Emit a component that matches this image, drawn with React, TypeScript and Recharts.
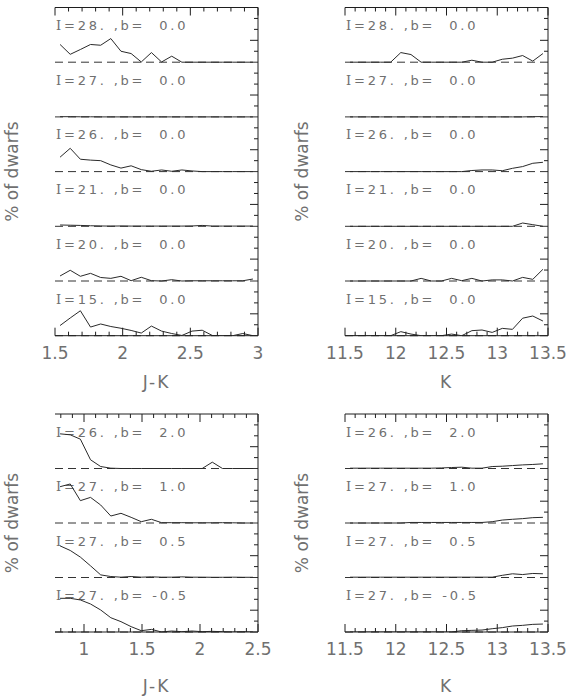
import React from 'react';
import { LineChart, Line, XAxis, YAxis, ReferenceLine } from 'recharts';

// ---- bin centres (x categories) ----
const JK_TOP_X = [1.5375, 1.6125, 1.6875, 1.7625, 1.8375, 1.9125, 1.9875, 2.0625, 2.1375, 2.2125, 2.2875, 2.3625, 2.4375, 2.5125, 2.5875, 2.6625, 2.7375, 2.8125, 2.8875, 2.9625];
const K_X = [11.55, 11.65, 11.75, 11.85, 11.95, 12.05, 12.15, 12.25, 12.35, 12.45, 12.55, 12.65, 12.75, 12.85, 12.95, 13.05, 13.15, 13.25, 13.35, 13.45];
const JK_BOT_X = [0.79375, 0.88125, 0.96875, 1.05625, 1.14375, 1.23125, 1.31875, 1.40625, 1.49375, 1.58125, 1.66875, 1.75625, 1.84375, 1.93125, 2.01875, 2.10625, 2.19375, 2.28125, 2.36875, 2.45625];

// ---- axis ticks / labels ----
const JK_TOP_TICKS = [1.5, 1.6, 1.7, 1.8, 1.9, 2.0, 2.1, 2.2, 2.3, 2.4, 2.5, 2.6, 2.7, 2.8, 2.9, 3.0];
const JK_TOP_LABELS = [1.5, 2, 2.5, 3];
const K_TICKS = [11.5, 11.6, 11.7, 11.8, 11.9, 12.0, 12.1, 12.2, 12.3, 12.4, 12.5, 12.6, 12.7, 12.8, 12.9, 13.0, 13.1, 13.2, 13.3, 13.4, 13.5];
const K_LABELS = [11.5, 12, 12.5, 13, 13.5];
const JK_BOT_TICKS = [0.8, 0.9, 1.0, 1.1, 1.2, 1.3, 1.4, 1.5, 1.6, 1.7, 1.8, 1.9, 2.0, 2.1, 2.2, 2.3, 2.4, 2.5];
const JK_BOT_LABELS = [1, 1.5, 2, 2.5];

const TOP_BAND_LABELS = ['I=28. ,b=  0.0', 'I=27. ,b=  0.0', 'I=26. ,b=  0.0', 'I=21. ,b=  0.0', 'I=20. ,b=  0.0', 'I=15. ,b=  0.0'];
const BOT_BAND_LABELS = ['I=26. ,b=  2.0', 'I=27. ,b=  1.0', 'I=27. ,b=  0.5', 'I=27. ,b= -0.5'];

// ---- series: top-left (J-K) ----
const L28_JK = [1.62, 0.72, 1.16, 1.62, 1.55, 2.16, 1.0, 0.79, 0.02, 0.88, 0.02, 0.55, 0, 0, 0, 0, 0, 0, 0, 0];
const L27_JK = [0.02, 0.02, 0.01, 0.01, 0, 0, 0, 0, 0, 0, 0, 0, 0, 0, 0, 0, 0, 0, 0, 0];
const L26_JK = [1.32, 2.13, 1.13, 1.05, 1.0, 0.61, 0.32, 0.53, 0.18, 0.03, 0.15, 0.03, 0.15, 0.06, 0, 0, 0, 0, 0, 0];
const L21_JK = [0.12, 0.1, 0.08, 0.05, 0.03, 0.02, 0.03, 0.02, 0.02, 0.02, 0.02, 0.02, 0.02, 0.03, 0.08, 0.02, 0.02, 0.02, 0.02, 0.02];
const L20_JK = [0.46, 0.98, 0.43, 0.7, 0.32, 0.24, 0.43, 0.03, 0.34, 0.03, 0, 0.12, 0, 0.02, 0.02, 0.02, 0.02, 0.02, 0.02, 0.18];
const L15_JK = [0.93, 1.62, 2.28, 0.79, 1.07, 0.84, 0.68, 0.48, 0.24, 0.88, 0.42, 0.2, 0.02, 0.42, 0.5, 0.02, 0, 0, 0.2, 0];

// ---- series: top-right (K) ----
const L28_K = [0, 0, 0, 0, 0, 0.88, 0.7, 0, 0, 0, 0, 0, 0.18, 0, 0, 0.27, 0.37, 0.61, 0.1, 0.79];
const L27_K = [0, 0, 0, 0, 0, 0, 0, 0, 0, 0, 0, 0, 0, 0, 0, 0, 0, 0, 0.02, 0.03];
const L26_K = [0, 0, 0, 0, 0, 0, 0, 0, 0, 0, 0, 0, 0.1, 0.15, 0.15, 0.08, 0.3, 0.46, 0.76, 0.85];
const L21_K = [0, 0, 0, 0, 0, 0, 0, 0, 0, 0, 0, 0, 0, 0, 0, 0, 0, 0.3, 0.15, 0];
const L20_K = [0, 0, 0, 0, 0, 0, 0, 0.24, 0, 0, 0.24, 0.03, 0.24, 0, 0.1, 0.1, 0, 0.33, 0.15, 1.07];
const L15_K = [0, 0, 0, 0, 0, 0.37, 0.15, 0, 0, 0, 0.15, 0, 0.46, 0.52, 0.3, 0.67, 0.58, 1.6, 1.8, 1.34];

// ---- series: bottom-left (J-K) ----
const L26_B20_JK = [3.18, 3.09, 2.69, 0.8, 0.18, 0.03, 0, 0, 0, 0, 0, 0, 0, 0, 0, 0.58, 0, 0, 0, 0];
const L27_B10_JK = [3.33, 3.58, 2.05, 2.35, 1.65, 0.64, 0.89, 0.52, 0.12, 0.34, 0.03, 0.03, 0.03, 0.02, 0.02, 0.02, 0.03, 0.02, 0, 0];
const L27_B05_JK = [2.9, 2.48, 1.87, 1.07, 0.24, 0.09, 0.03, 0.09, 0.03, 0.06, 0.03, 0.03, 0.06, 0.03, 0.03, 0.02, 0.02, 0.03, 0.02, 0.02];
const L27_BM05_JK = [3.09, 3.09, 2.94, 2.57, 2.02, 1.31, 0.95, 0.49, 0.12, 0.24, 0, 0.09, 0.03, 0.09, 0.03, 0.06, 0.03, 0, 0.03, 0];

// ---- series: bottom-right (K) ----
const L26_B20_K = [0.03, 0.03, 0.03, 0.03, 0.03, 0.03, 0.03, 0.03, 0.03, 0.05, 0.09, 0.12, 0.03, 0.03, 0.18, 0.21, 0.27, 0.33, 0.37, 0.43];
const L27_B10_K = [0, 0, 0, 0, 0, 0, 0.05, 0.05, 0.05, 0.05, 0.05, 0.05, 0.05, 0.05, 0.12, 0.27, 0.34, 0.4, 0.49, 0.52];
const L27_B05_K = [0.03, 0.03, 0.03, 0.03, 0.03, 0.03, 0.03, 0.03, 0.03, 0.03, 0.03, 0.03, 0.03, 0.03, 0.03, 0.2, 0.34, 0.27, 0.37, 0.34];
const L27_BM05_K = [0, 0, 0, 0, 0, 0, 0, 0, 0, 0, 0, 0.12, 0.15, 0.18, 0.3, 0.4, 0.55, 0.61, 0.7, 0.73];

const FONT = 'DejaVu Sans';
const TEXT_COLOR = '#707070';
const INK = '#1e1e1e';
const BAND_MAX = 5;
const PLOT_LEFT = 55;

const XTick = (props: any) => {
  const { x, y, payload, side, labels } = props;
  const v = payload.value;
  const major = labels.some((m: number) => Math.abs(m - v) < 1e-6);
  const len = major ? 8 : 4;
  const dir = side === 'bottom' ? -1 : 1;
  return (
    <g>
      <line x1={x} y1={y} x2={x} y2={y + dir * len} stroke={INK} strokeWidth={1} />
      {side === 'bottom' && major ? (
        <text x={x} y={y + 23} textAnchor="middle" fill={TEXT_COLOR} fontFamily={FONT} fontSize={17}>
          {String(v)}
        </text>
      ) : null}
    </g>
  );
};

const YTick = (props: any) => {
  const { x, y, payload, side } = props;
  const v = payload.value;
  const major = v % BAND_MAX === 2;
  const len = major ? 8 : 4;
  const dir = side === 'left' ? 1 : -1;
  return <line x1={x} y1={y} x2={x + dir * len} y2={y} stroke={INK} strokeWidth={1} />;
};

const BandLabel = (props: any) => {
  const vb = props.viewBox || {};
  const text: string = props.text;
  return (
    <text
      x={(vb.x || 0) + 1}
      y={(vb.y || 0) + 22.5}
      fill={TEXT_COLOR}
      fontFamily={FONT}
      fontSize={13}
      style={{ whiteSpace: 'pre', letterSpacing: '2.8px' }}
    >
      <tspan fontFamily="DejaVu Serif">{text.slice(0, 1)}</tspan>
      {text.slice(1)}
    </text>
  );
};

const YTitle = (props: any) => {
  const vb = props.viewBox || {};
  const cx = PLOT_LEFT - 43;
  const cy = (vb.y || 0) + (vb.height || 0) / 2;
  return (
    <text
      x={cx}
      y={cy}
      transform={`rotate(-90 ${cx} ${cy})`}
      textAnchor="middle"
      dominantBaseline="central"
      fill={TEXT_COLOR}
      fontFamily={FONT}
      fontSize={17}
    >
      % of dwarfs
    </text>
  );
};

const XTitle = (props: any) => {
  const vb = props.viewBox || {};
  const cx = (vb.x || 0) + (vb.width || 0) / 2;
  const cy = (vb.y || 0) + props.dy;
  return (
    <text x={cx} y={cy} textAnchor="middle" dominantBaseline="central" fill={TEXT_COLOR} fontFamily={FONT} fontSize={17} style={{ letterSpacing: '2px' }}>
      {props.text}
    </text>
  );
};

function Panel(props: any) {
  const { left, top, width, height, margin, xs, series, labels, domain, ticks, tickLabels, xTitle, titleDy } = props;
  const n = series.length;
  const data = xs.map((x: number, i: number) => {
    const row: any = { x };
    series.forEach((s: number[], k: number) => {
      row['s' + k] = s[i];
    });
    return row;
  });
  const frameTicks: number[] = [];
  for (let v = 1; v < BAND_MAX * n; v++) if (v % BAND_MAX !== 0) frameTicks.push(v);

  return (
    <div style={{ position: 'absolute', left, top, width, height }}>
      <LineChart width={width} height={height} data={data} margin={margin} style={{ overflow: 'visible' }}>
        <XAxis
          xAxisId="b"
          dataKey="x"
          type="number"
          domain={domain}
          allowDataOverflow
          ticks={ticks}
          interval={0}
          tickSize={0}
          tickMargin={0}
          height={1}
          axisLine={{ stroke: INK }}
          tickLine={false}
          tick={(p: any) => <XTick {...p} side="bottom" labels={tickLabels} />}
          label={(p: any) => <XTitle {...p} text={xTitle} dy={titleDy} />}
        />
        <XAxis
          xAxisId="t"
          orientation="top"
          dataKey="x"
          type="number"
          domain={domain}
          allowDataOverflow
          ticks={ticks}
          interval={0}
          tickSize={0}
          tickMargin={0}
          height={1}
          axisLine={{ stroke: INK }}
          tickLine={false}
          tick={(p: any) => <XTick {...p} side="top" labels={tickLabels} />}
        />
        {series.map((_: any, k: number) => (
          <YAxis
            key={'y' + k}
            yAxisId={'b' + k}
            hide
            type="number"
            domain={[-(n - 1 - k) * BAND_MAX, (k + 1) * BAND_MAX]}
            allowDataOverflow
          />
        ))}
        <YAxis
          yAxisId="fl"
          orientation="left"
          width={1}
          type="number"
          domain={[0, BAND_MAX * n]}
          allowDataOverflow
          ticks={frameTicks}
          interval={0}
          tickSize={0}
          tickMargin={0}
          tickLine={false}
          axisLine={{ stroke: INK }}
          tick={(p: any) => <YTick {...p} side="left" />}
          label={(p: any) => <YTitle {...p} />}
        />
        <YAxis
          yAxisId="fr"
          orientation="right"
          width={1}
          type="number"
          domain={[0, BAND_MAX * n]}
          allowDataOverflow
          ticks={frameTicks}
          interval={0}
          tickSize={0}
          tickMargin={0}
          tickLine={false}
          axisLine={{ stroke: INK }}
          tick={(p: any) => <YTick {...p} side="right" />}
        />
        {series.map((_: any, k: number) => (
          <ReferenceLine
            key={'d' + k}
            xAxisId="b"
            yAxisId={'b' + k}
            y={0}
            stroke="#333"
            strokeDasharray="8 5"
          />
        ))}
        {series.map((_: any, k: number) => (
          <ReferenceLine
            key={'l' + k}
            xAxisId="b"
            yAxisId={'b' + k}
            y={BAND_MAX}
            stroke="none"
            label={(p: any) => <BandLabel {...p} text={labels[k]} />}
          />
        ))}
        {series.map((_: any, k: number) => (
          <Line
            key={'s' + k}
            xAxisId="b"
            yAxisId={'b' + k}
            dataKey={'s' + k}
            type="linear"
            stroke="#2a2a2a"
            strokeWidth={1}
            dot={false}
            activeDot={false}
            isAnimationActive={false}
          />
        ))}
      </LineChart>
    </div>
  );
}

const TOP_MARGIN = { top: 6.5, right: 31, bottom: 63.3, left: 54 };
const BOT_MARGIN = { top: 13, right: 31, bottom: 63, left: 54 };

export default function App() {
  return (
    <div style={{ position: 'absolute', left: 0, top: 0, width: 570, height: 696, background: '#fff' }}>
      <Panel
        left={0}
        top={0}
        width={290}
        height={400}
        margin={TOP_MARGIN}
        xs={JK_TOP_X}
        series={[L28_JK, L27_JK, L26_JK, L21_JK, L20_JK, L15_JK]}
        labels={TOP_BAND_LABELS}
        domain={[1.5, 3]}
        ticks={JK_TOP_TICKS}
        tickLabels={JK_TOP_LABELS}
        xTitle="J-K"
        titleDy={46}
      />
      <Panel
        left={290}
        top={0}
        width={290}
        height={400}
        margin={TOP_MARGIN}
        xs={K_X}
        series={[L28_K, L27_K, L26_K, L21_K, L20_K, L15_K]}
        labels={TOP_BAND_LABELS}
        domain={[11.5, 13.5]}
        ticks={K_TICKS}
        tickLabels={K_LABELS}
        xTitle="K"
        titleDy={46}
      />
      <Panel
        left={0}
        top={400}
        width={290}
        height={296}
        margin={BOT_MARGIN}
        xs={JK_BOT_X}
        series={[L26_B20_JK, L27_B10_JK, L27_B05_JK, L27_BM05_JK]}
        labels={BOT_BAND_LABELS}
        domain={[0.75, 2.5]}
        ticks={JK_BOT_TICKS}
        tickLabels={JK_BOT_LABELS}
        xTitle="J-K"
        titleDy={54}
      />
      <Panel
        left={290}
        top={400}
        width={290}
        height={296}
        margin={BOT_MARGIN}
        xs={K_X}
        series={[L26_B20_K, L27_B10_K, L27_B05_K, L27_BM05_K]}
        labels={BOT_BAND_LABELS}
        domain={[11.5, 13.5]}
        ticks={K_TICKS}
        tickLabels={K_LABELS}
        xTitle="K"
        titleDy={54}
      />
    </div>
  );
}
